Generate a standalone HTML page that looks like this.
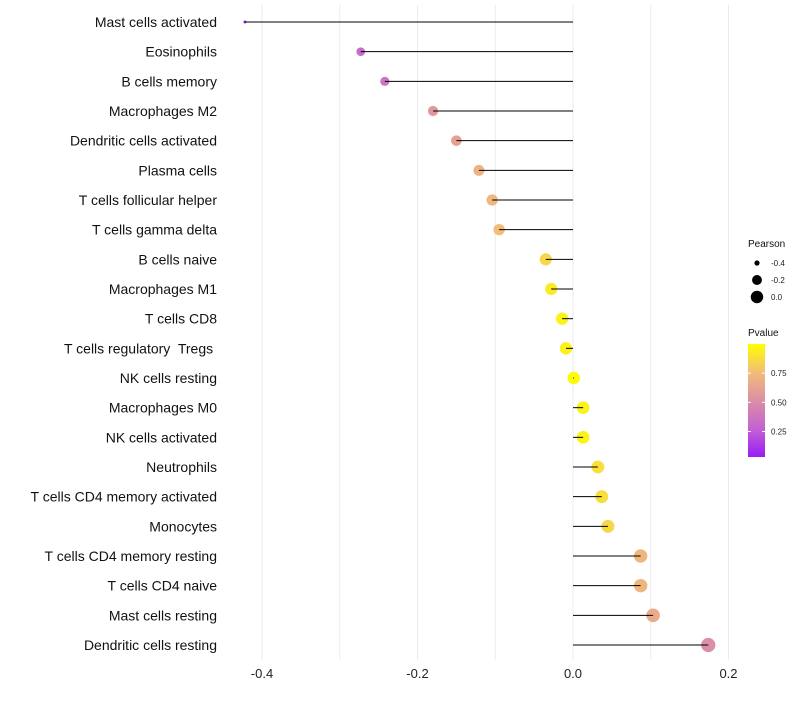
<!DOCTYPE html>
<html><head><meta charset="utf-8"><style>
body{margin:0;background:#fff;font-family:"Liberation Sans",sans-serif}
text{white-space:pre}
</style></head><body>
<svg id="chart" width="800" height="700" xmlns="http://www.w3.org/2000/svg" font-family="Liberation Sans, sans-serif"></svg>
<script>
const categories=["Mast cells activated","Eosinophils","B cells memory","Macrophages M2","Dendritic cells activated","Plasma cells","T cells follicular helper","T cells gamma delta","B cells naive","Macrophages M1","T cells CD8","T cells regulatory  Tregs ","NK cells resting","Macrophages M0","NK cells activated","Neutrophils","T cells CD4 memory activated","Monocytes","T cells CD4 memory resting","T cells CD4 naive","Mast cells resting","Dendritic cells resting"];
const pearson=[-0.422,-0.273,-0.242,-0.180,-0.150,-0.121,-0.104,-0.095,-0.035,-0.028,-0.014,-0.009,0.001,0.013,0.013,0.032,0.037,0.045,0.087,0.087,0.103,0.174];
const pvalues=[0.05,0.3,0.35,0.55,0.6,0.7,0.72,0.75,0.85,0.92,0.95,0.95,0.99,0.95,0.95,0.88,0.87,0.85,0.72,0.72,0.65,0.5];
const xTicks=[-0.4,-0.2,0.0,0.2];
const xTickLabels=["-0.4","-0.2","0.0","0.2"];
const xGrid=[-0.5,-0.4,-0.3,-0.2,-0.1,0.0,0.1,0.2];
const sizeLegend=[-0.4,-0.2,0.0];
const colorLegend=[0.25,0.5,0.75];

const NS="http://www.w3.org/2000/svg";
const svg=document.getElementById('chart');
function x(v){return 573+v*777.5;}
function y(i){return 22+i*(623/21);}
const vmin=Math.min(...pearson);
function r(v){return 1.5+7.3*Math.sqrt(Math.max(0,v-vmin));}
const stops=[[0,[154,28,245]],[0.25,[196,98,210]],[0.5,[219,143,166]],[0.75,[242,189,120]],[1,[255,255,0]]];
function col(p){for(let k=1;k<stops.length;k++){if(p<=stops[k][0]){const a=stops[k-1],b=stops[k];const t=(p-a[0])/(b[0]-a[0]);const c=a[1].map((u,j)=>Math.round(u+(b[1][j]-u)*t));return `rgb(${c})`;}}return 'rgb(255,255,0)';}
function mk(tag,at,parent){const e=document.createElementNS(NS,tag);for(const k in at)e.setAttribute(k,at[k]);(parent||svg).appendChild(e);return e;}

xGrid.forEach(v=>{if(x(v)<225)return;const g=mk('line',{x1:x(v),x2:x(v),y1:5,y2:660,stroke:'#ebebeb','stroke-width':1});

});
xTicks.forEach((v,i)=>{const t=mk('text',{x:x(v),y:678,'text-anchor':'middle','font-size':13,fill:'#222'});t.textContent=xTickLabels[i];

});
categories.forEach((c,i)=>{
const t=mk('text',{x:217,y:y(i)+5,'text-anchor':'end','font-size':14,fill:'#111'});t.textContent=c;


const p=mk('circle',{cx:x(pearson[i]),cy:y(i),r:r(pearson[i]),fill:col(pvalues[i])});


const l=mk('line',{x1:x(0),x2:x(pearson[i]),y1:y(i),y2:y(i),stroke:'#000','stroke-width':1});


});
let t=mk('text',{x:748,y:247,'font-size':10,fill:'#111'});t.textContent='Pearson';


sizeLegend.forEach((v,i)=>{const cy=263+i*17;
const c=mk('circle',{cx:757,cy:cy,r:r(v),fill:'#000'});


const tt=mk('text',{x:771,y:cy+3,'font-size':8,fill:'#222'});tt.textContent=v.toFixed(1);

});
t=mk('text',{x:748,y:336,'font-size':10,fill:'#111'});t.textContent='Pvalue';


const defs=mk('defs',{});const lg=mk('linearGradient',{id:'pg',x1:0,y1:1,x2:0,y2:0},defs);
stops.forEach(s=>mk('stop',{offset:s[0],'stop-color':`rgb(${s[1]})`},lg));
const bar=mk('rect',{x:748,y:344,width:17,height:113,fill:'url(#pg)'});


function ly(p){return 456-(p-0.04)/0.96*112;}
colorLegend.forEach(v=>{mk('line',{x1:748,x2:751,y1:ly(v),y2:ly(v),stroke:'#fff'});mk('line',{x1:762,x2:765,y1:ly(v),y2:ly(v),stroke:'#fff'});
const tt=mk('text',{x:771,y:ly(v)+3,'font-size':8,fill:'#222'});tt.textContent=v.toFixed(2);

});
</script>
</body></html>
